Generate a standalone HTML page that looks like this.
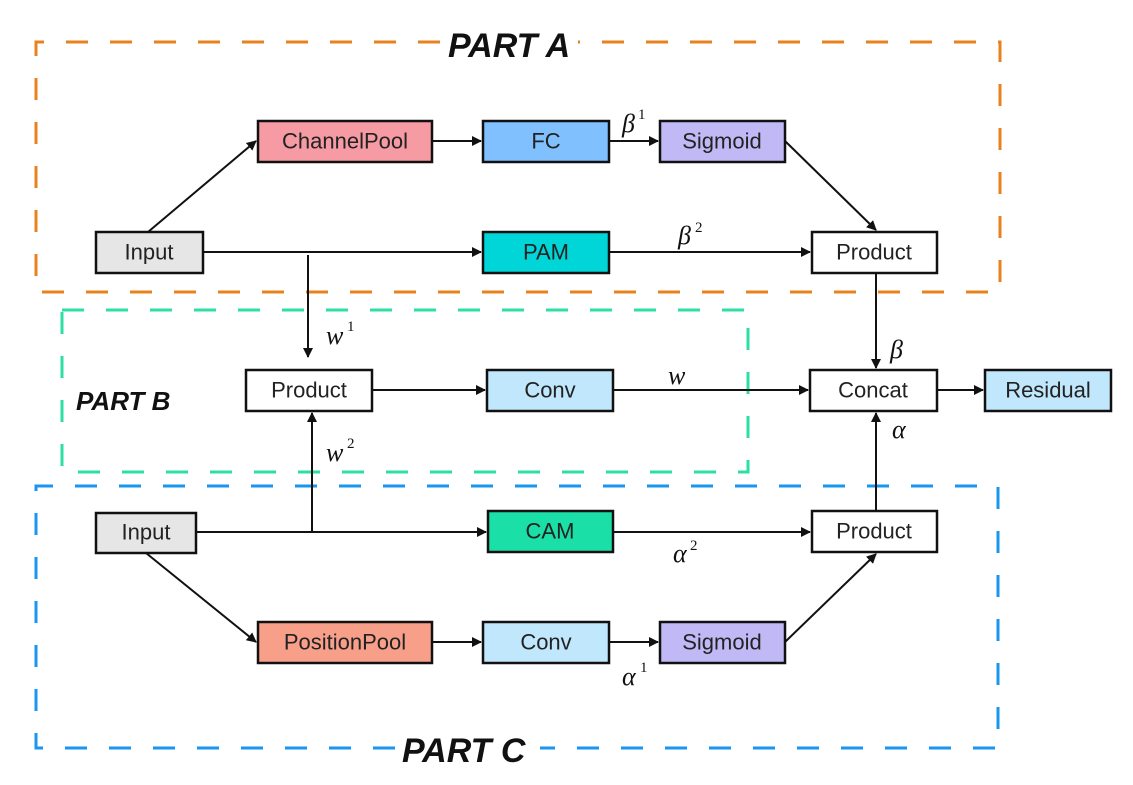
<!DOCTYPE html>
<html><head><meta charset="utf-8"><style>
html,body{margin:0;padding:0;background:#fff;}
svg{display:block;}
.b{stroke:#111;stroke-width:2.5;}
.t{font-family:"Liberation Sans",sans-serif;font-size:22px;fill:#222;text-anchor:middle;dominant-baseline:central;}
.m{font-family:"Liberation Serif",serif;font-style:italic;font-size:26px;fill:#111;}
.s{font-family:"Liberation Serif",serif;font-size:15px;fill:#111;}
.p{font-family:"Liberation Sans",sans-serif;font-style:italic;font-weight:bold;fill:#111;}
.l{stroke:#111;stroke-width:2;fill:none;}
</style></head><body>
<svg width="1133" height="785" viewBox="0 0 1133 785" xmlns="http://www.w3.org/2000/svg">
<defs><marker id="a" markerWidth="10" markerHeight="10" refX="9" refY="5" orient="auto" markerUnits="userSpaceOnUse"><path d="M0,0 L10,5 L0,10 z" fill="#111"/></marker></defs>
<!-- dashed regions -->
<path d="M440,42 L36,42 L36,292 L1000,292 L1000,42 L578,42" fill="none" stroke="#e8821e" stroke-width="3" stroke-dasharray="22,22"/>
<path d="M62,310 L748,310 L748,472 L62,472 Z" fill="none" stroke="#2ddfa4" stroke-width="3" stroke-dasharray="22,22"/>
<path d="M395,748 L36,748 L36,486 L998,486 L998,748 L540,748" fill="none" stroke="#1a96f0" stroke-width="3" stroke-dasharray="22,22"/>
<text class="p" x="448" y="57" font-size="34">PART A</text>
<text class="p" x="76" y="410" font-size="26">PART B</text>
<text class="p" x="402" y="762" font-size="34">PART C</text>
<!-- connectors -->
<line class="l" x1="148" y1="232" x2="256" y2="141" marker-end="url(#a)"/>
<line class="l" x1="432" y1="141" x2="481" y2="141" marker-end="url(#a)"/>
<line class="l" x1="609" y1="141" x2="658" y2="141" marker-end="url(#a)"/>
<line class="l" x1="785" y1="141" x2="876" y2="230" marker-end="url(#a)"/>
<line class="l" x1="203" y1="252" x2="481" y2="252" marker-end="url(#a)"/>
<line class="l" x1="609" y1="252" x2="810" y2="252" marker-end="url(#a)"/>
<line class="l" x1="308" y1="255" x2="308" y2="357" marker-end="url(#a)"/>
<line class="l" x1="876" y1="273" x2="876" y2="368" marker-end="url(#a)"/>
<line class="l" x1="372" y1="390" x2="485" y2="390" marker-end="url(#a)"/>
<line class="l" x1="613" y1="390" x2="808" y2="390" marker-end="url(#a)"/>
<line class="l" x1="937" y1="390" x2="983" y2="390" marker-end="url(#a)"/>
<line class="l" x1="876" y1="511" x2="876" y2="413" marker-end="url(#a)"/>
<line class="l" x1="312" y1="532" x2="312" y2="413" marker-end="url(#a)"/>
<line class="l" x1="196" y1="532" x2="486" y2="532" marker-end="url(#a)"/>
<line class="l" x1="613" y1="532" x2="810" y2="532" marker-end="url(#a)"/>
<line class="l" x1="146" y1="553" x2="256" y2="642" marker-end="url(#a)"/>
<line class="l" x1="432" y1="642" x2="481" y2="642" marker-end="url(#a)"/>
<line class="l" x1="609" y1="642" x2="658" y2="642" marker-end="url(#a)"/>
<line class="l" x1="785" y1="642" x2="876" y2="554" marker-end="url(#a)"/>
<!-- boxes -->
<rect class="b" x="258" y="121" width="174" height="41" fill="#f69aa3"/><text class="t" x="345" y="141">ChannelPool</text>
<rect class="b" x="483" y="121" width="126" height="41" fill="#80c0ff"/><text class="t" x="546" y="141">FC</text>
<rect class="b" x="660" y="121" width="125" height="41" fill="#c1b9f6"/><text class="t" x="722" y="141">Sigmoid</text>
<rect class="b" x="96" y="232" width="107" height="41" fill="#e6e6e6"/><text class="t" x="149" y="252">Input</text>
<rect class="b" x="483" y="232" width="126" height="41" fill="#00d5d7"/><text class="t" x="546" y="252">PAM</text>
<rect class="b" x="812" y="232" width="125" height="41" fill="#fff"/><text class="t" x="874" y="252">Product</text>
<rect class="b" x="246" y="370" width="126" height="41" fill="#fff"/><text class="t" x="309" y="390">Product</text>
<rect class="b" x="487" y="370" width="126" height="41" fill="#c1e7fc"/><text class="t" x="550" y="390">Conv</text>
<rect class="b" x="810" y="370" width="127" height="41" fill="#fff"/><text class="t" x="873" y="390">Concat</text>
<rect class="b" x="985" y="370" width="126" height="41" fill="#c1e7fc"/><text class="t" x="1048" y="390">Residual</text>
<rect class="b" x="96" y="513" width="100" height="40" fill="#e6e6e6"/><text class="t" x="146" y="532">Input</text>
<rect class="b" x="488" y="511" width="125" height="41" fill="#1adfa6"/><text class="t" x="550" y="531">CAM</text>
<rect class="b" x="812" y="511" width="125" height="41" fill="#fff"/><text class="t" x="874" y="531">Product</text>
<rect class="b" x="258" y="622" width="174" height="41" fill="#f89f8a"/><text class="t" x="345" y="642">PositionPool</text>
<rect class="b" x="483" y="622" width="126" height="41" fill="#c1e7fc"/><text class="t" x="546" y="642">Conv</text>
<rect class="b" x="660" y="622" width="125" height="41" fill="#c1b9f6"/><text class="t" x="722" y="642">Sigmoid</text>
<!-- math labels -->
<text class="m" x="622" y="132">β</text><text class="s" x="638" y="119">1</text>
<text class="m" x="678" y="244">β</text><text class="s" x="695" y="232">2</text>
<text class="m" x="326" y="344">w</text><text class="s" x="347" y="331">1</text>
<text class="m" x="326" y="461">w</text><text class="s" x="347" y="448">2</text>
<text class="m" x="668" y="384">w</text>
<text class="m" x="890" y="358">β</text>
<text class="m" x="892" y="438">α</text>
<text class="m" x="673" y="562">α</text><text class="s" x="690" y="550">2</text>
<text class="m" x="622" y="685">α</text><text class="s" x="640" y="672">1</text>
</svg>
</body></html>
